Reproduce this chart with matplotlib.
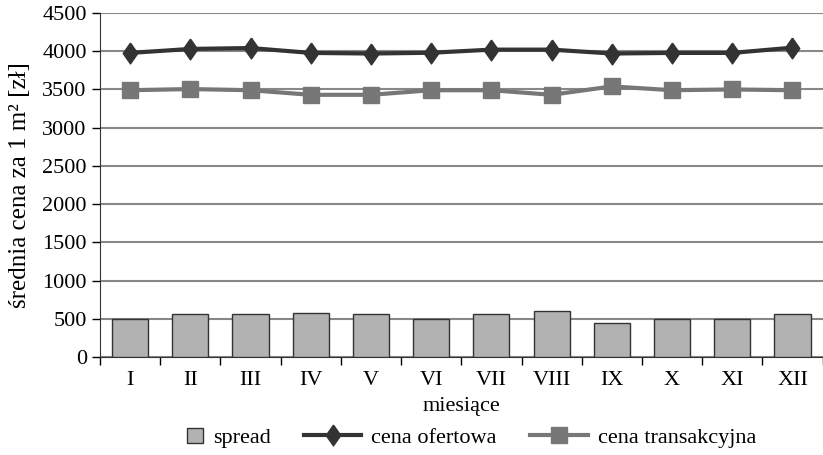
import numpy as np
import matplotlib.pyplot as plt
from matplotlib.patches import Rectangle
from matplotlib.legend_handler import HandlerPatch

months = ['I', 'II', 'III', 'IV', 'V', 'VI', 'VII', 'VIII', 'IX', 'X', 'XI', 'XII']
spread = [500, 562, 562, 575, 557, 500, 562, 602, 451, 500, 500, 562]
cena_ofertowa = [3978, 4030, 4042, 3978, 3970, 3980, 4021, 4021, 3970, 3978, 3978, 4047]
cena_transakcyjna = [3490, 3505, 3490, 3430, 3430, 3490, 3490, 3430, 3540, 3490, 3500, 3490]

plt.rcParams['font.family'] = ['Liberation Serif', 'DejaVu Serif']


class SquareHandler(HandlerPatch):
    # small square key for the bars, drawn at the right end of the handle box
    def create_artists(self, legend, orig_handle, xdescent, ydescent, width, height, fontsize, trans):
        side = 0.7 * fontsize
        p = Rectangle((width - side - xdescent, (height - side) / 2 - ydescent), side, side,
                      facecolor=orig_handle.get_facecolor(), edgecolor=orig_handle.get_edgecolor(),
                      linewidth=1, transform=trans)
        return [p]


fig = plt.figure(figsize=(8.23, 4.55), dpi=100)
ax = fig.add_axes([0.1215, 0.2154, 0.878, 0.756])

diamond = [(0, 1), (0.7, 0), (0, -1), (-0.7, 0), (0, 1)]

x = np.arange(len(months))
bars = ax.bar(x, spread, width=0.6, color='#b2b2b2', edgecolor='#333333', linewidth=1,
              label='spread', zorder=3)
l1, = ax.plot(x, cena_ofertowa, color='#333333', linewidth=3, marker=diamond, markersize=15,
              label='cena ofertowa', zorder=4)
l2, = ax.plot(x, cena_transakcyjna, color='#777777', linewidth=3, marker='s', markersize=11.5,
              label='cena transakcyjna', zorder=4)

ax.set_xlim(-0.5, len(months) - 0.5)
ax.set_ylim(0, 4500)
ax.set_yticks(np.arange(0, 4501, 500))
ax.set_xticks(x)
ax.set_xticklabels(months)
ax.set_xticks(np.arange(-0.5, len(months), 1), minor=True)
ax.tick_params(axis='x', which='major', length=0, labelsize=16, pad=10)
ax.tick_params(axis='x', which='minor', length=6, width=1, direction='out')
ax.tick_params(axis='y', length=6, width=1, labelsize=16, direction='out', pad=3.5)

ax.grid(axis='y', color='#888888', linewidth=1.5, zorder=0)
ax.set_axisbelow(True)
for side in ['top', 'right']:
    ax.spines[side].set_visible(False)
ax.spines['left'].set_color('#333333')
ax.spines['bottom'].set_color('#333333')

ax.set_xlabel('miesiące', fontsize=16, labelpad=5)
ax.set_ylabel('średnia cena za 1 m² [zł]', fontsize=18, labelpad=8)

fig.legend([bars.patches[0], l1, l2], ['spread', 'cena ofertowa', 'cena transakcyjna'],
           loc='center left', bbox_to_anchor=(0.176, 0.0374), ncol=3, frameon=False,
           fontsize=16, handlelength=2.6, columnspacing=1.5, handletextpad=0.45,
           borderpad=0, borderaxespad=0,
           handler_map={Rectangle: SquareHandler()})

fig.savefig('out.png', dpi=100)
